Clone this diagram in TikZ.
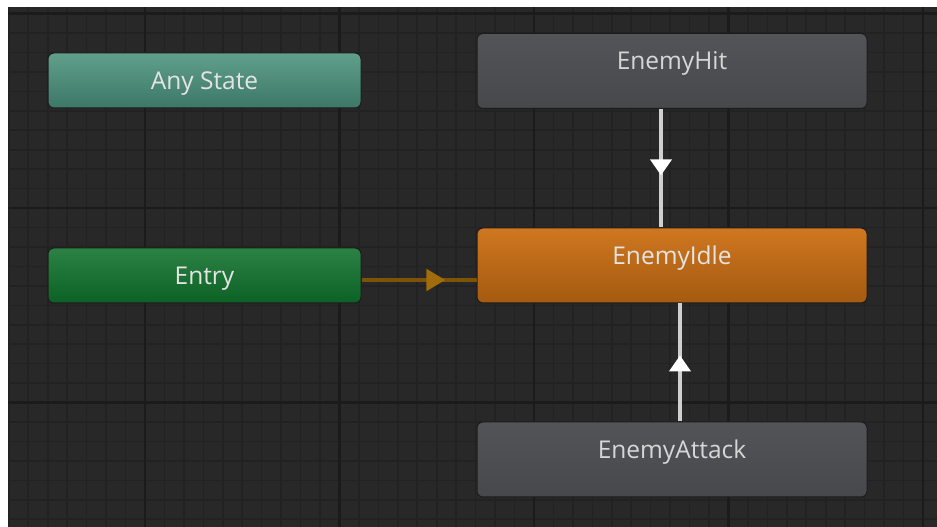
\documentclass[tikz,border=0pt]{standalone}
\usepackage{fontspec}
\setmainfont{Open Sans}
\usetikzlibrary{arrows.meta,decorations.markings}
\definecolor{bgdark}{HTML}{282828}
\definecolor{gridminor}{HTML}{222222}
\definecolor{gridmajor}{HTML}{1B1B1B}
\definecolor{anytop}{HTML}{60A08B}
\definecolor{anybot}{HTML}{3C7767}
\definecolor{entrytop}{HTML}{2B8244}
\definecolor{entrybot}{HTML}{0C6225}
\definecolor{graytop}{HTML}{525458}
\definecolor{graybot}{HTML}{46484B}
\definecolor{idletop}{HTML}{CF7720}
\definecolor{idlebot}{HTML}{A45A10}
\definecolor{nodeedge}{HTML}{1C1C1C}
\definecolor{txtlight}{HTML}{E4E4E4}
\definecolor{txtgray}{HTML}{D6D6D6}
\definecolor{translight}{HTML}{CFCFCF}
\definecolor{transentry}{HTML}{7C5308}
\definecolor{transentryhead}{HTML}{A06C0C}
\tikzset{
  minorline/.style={draw=gridminor,line width=1.6pt},
  majorline/.style={draw=gridmajor,line width=2.2pt},
  statebase/.style={rectangle,rounded corners=6pt,inner sep=0pt,draw=nodeedge,line width=1pt,
    font=\fontsize{24.5}{28}\selectfont},
  smallstate/.style={statebase,minimum width=313pt,minimum height=55pt,text height=22pt,text depth=3pt,text=txtlight},
  bigstate/.style={statebase,minimum width=390pt,minimum height=75pt,text height=13pt,text depth=15pt,text=txtgray},
  anystate/.style={smallstate,top color=anytop,bottom color=anybot},
  entrystate/.style={smallstate,top color=entrytop,bottom color=entrybot},
  graystate/.style={bigstate,top color=graytop,bottom color=graybot},
  idlestate/.style={bigstate,top color=idletop,bottom color=idlebot,text=txtlight},
  transwhite/.style={draw=translight,line width=4pt,postaction={decorate},
    decoration={markings,mark=at position #1 with {\arrow{Triangle[width=21pt,length=16pt,color=white]}}}},
  transorange/.style={draw=transentry,line width=4.5pt,postaction={decorate},
    decoration={markings,mark=at position #1 with {\arrow{Triangle[width=21pt,length=19pt,color=transentryhead]}}}},
}
\begin{document}
\begin{tikzpicture}[x=1pt,y=1pt]
\useasboundingbox (0,0) rectangle (937,527);
\fill[white] (0,0) rectangle (937,527);
\fill[bgdark] (8,0) rectangle (937,520);
% grid
\begin{scope}
\clip (8,0) rectangle (937,520);
\foreach \k in {0,...,47} {
  \pgfmathsetmacro\xx{8.8+19.45*\k}
  \draw[minorline] (\xx,0) -- (\xx,520);
}
\foreach \k in {0,...,26} {
  \pgfmathsetmacro\yy{513.4-19.45*\k}
  \draw[minorline] (8,\yy) -- (937,\yy);
}
\foreach \k in {7,17,27,37,47} {
  \pgfmathsetmacro\xx{8.8+19.45*\k}
  \draw[majorline] (\xx,0) -- (\xx,520);
}
\foreach \k in {0,10,20} {
  \pgfmathsetmacro\yy{513.4-19.45*\k}
  \draw[majorline] (8,\yy) -- (937,\yy);
}
\end{scope}
% states
\node[anystate] (any) at (204.5,446.5) {Any State};
\node[entrystate] (entry) at (204.5,251.5) {Entry};
\node[graystate] (hit) at (672,456) {EnemyHit};
\node[idlestate] (idle) at (672,261.5) {EnemyIdle};
\node[graystate] (attack) at (672,67.5) {EnemyAttack};
% transitions
\draw[transwhite=0.56] ([xshift=-11pt]hit.south) -- ([xshift=-11pt]idle.north);
\draw[transwhite=0.56] ([xshift=8pt]attack.north) -- ([xshift=8pt]idle.south);
\coordinate (e1) at ([yshift=-4.5pt]entry.east);
\draw[transorange=0.73] (e1) -- (e1 -| idle.west);
\end{tikzpicture}
\end{document}
